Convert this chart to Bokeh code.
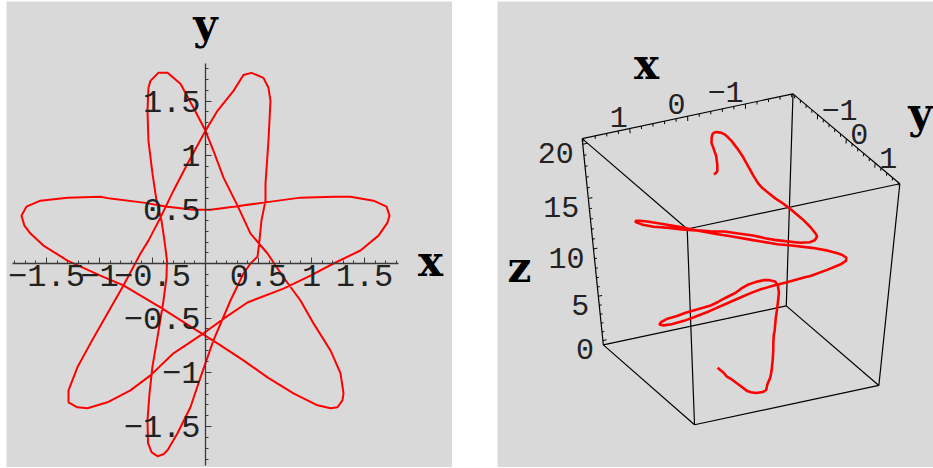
import numpy as np
from bokeh.plotting import figure
from bokeh.models import Range1d, LinearAxis, FixedTicker, Label, Spacer, AllLabels
from bokeh.layouts import row, column
from bokeh.embed import file_html
from bokeh.resources import INLINE

# Parametric curve (x(t), y(t)) in drawing order, with its height t for the space curve
curve_x = [0.491, 0.509, 0.528, 0.566, 0.566, 0.594, 0.613, 0.594, 0.547, 0.434,
           0.358, 0.264, 0.113, 0.0, -0.170, -0.302, -0.425, -0.538, -0.613, -0.774, -0.925, -1.085, -1.208, -1.292, -1.292, -1.208,
           -1.113, -0.925, -0.708, -0.519, -0.302, -0.047, 0.189, 0.396, 0.736, 0.991, 1.208, 1.462, 1.632, 1.717, 1.736,
           1.708, 1.585, 1.368, 1.208, 0.896, 0.547, 0.264, 0.047, -0.113, -0.358, -0.585, -0.896, -0.991, -1.302, -1.557, -1.689, -1.736,
           -1.708, -1.651, -1.528, -1.302, -0.991, -0.774, -0.425, -0.113, 0.113, 0.358, 0.585, 0.830, 1.057, 1.179, 1.245, 1.292, 1.302,
           1.274, 1.179, 1.019, 0.896, 0.736, 0.585, 0.425, 0.302, 0.170, 0.075, 0.0, -0.113, -0.236, -0.358, -0.443,
           -0.519, -0.538, -0.547, -0.538, -0.500, -0.462, -0.415, -0.387, -0.363, -0.368, -0.396, -0.453, -0.500, -0.528, -0.547, -0.542, -0.509, -0.453,
           -0.396, -0.358, -0.264, -0.142, -0.047, 0.075, 0.236, 0.358, 0.425, 0.491]
curve_y = [0.067, 0.214, 0.398, 0.582, 0.739, 1.134, 1.502, 1.622, 1.714, 1.760,
           1.741, 1.594, 1.410, 1.226, 0.923, 0.674, 0.426, 0.214, 0.095, -0.199, -0.457, -0.733, -0.954, -1.166, -1.276, -1.322,
           -1.331, -1.276, -1.166, -1.028, -0.825, -0.660, -0.494, -0.356, -0.228, -0.108, 0.003, 0.123, 0.260, 0.380, 0.444,
           0.527, 0.582, 0.619, 0.619, 0.610, 0.564, 0.527, 0.499, 0.499, 0.527, 0.564, 0.601, 0.619, 0.610, 0.582, 0.527, 0.444,
           0.352, 0.279, 0.168, 0.030, -0.108, -0.199, -0.402, -0.595, -0.733, -0.890, -1.046, -1.193, -1.304, -1.331, -1.322, -1.258, -1.193,
           -1.009, -0.798, -0.549, -0.338, -0.126, 0.095, 0.279, 0.536, 0.794, 1.042, 1.226, 1.438, 1.659, 1.760, 1.762,
           1.686, 1.622, 1.410, 1.134, 0.831, 0.582, 0.398, 0.214, 0.030, -0.126, -0.338, -0.678, -0.945, -1.193, -1.441, -1.653, -1.736, -1.773,
           -1.755, -1.718, -1.561, -1.322, -1.046, -0.706, -0.338, -0.089, 0.003, 0.067]
curve_z = [0.0, 0.13, 0.27, 0.4, 0.53, 0.85, 1.1, 1.23, 1.32, 1.4,
           1.5, 1.66, 1.87, 2.03, 2.3, 2.52, 2.73, 2.9, 3.0, 3.27, 3.48, 3.73, 3.9, 4.1, 4.27, 4.4,
           4.5, 4.66, 4.87, 5.03, 5.28, 5.5, 5.7, 5.9, 6.17, 6.43, 6.63, 6.9, 7.1, 7.27, 7.4,
           7.5, 7.6, 7.8, 7.95, 8.22, 8.5, 8.74, 8.9, 9.05, 9.25, 9.4, 9.65, 9.7, 9.95, 10.13, 10.22, 10.3,
           10.4, 10.47, 10.62, 10.85, 11.13, 11.3, 11.65, 11.95, 12.15, 12.4, 12.65, 12.9, 13.15, 13.3, 13.4, 13.5, 13.6,
           13.75, 13.92, 14.2, 14.38, 14.6, 14.83, 15.05, 15.3, 15.55, 15.75, 15.92, 16.13, 16.37, 16.5, 16.6,
           16.68, 16.72, 16.88, 17.05, 17.25, 17.4, 17.52, 17.64, 17.75, 17.83, 17.98, 18.2, 18.36, 18.5, 18.64, 18.73, 18.77, 18.8,
           18.84, 18.88, 19.0, 19.16, 19.3, 19.5, 19.7, 19.83, 19.92, 20.0]

plane_ticks = [-1.5, -1.0, -0.5, 0.5, 1.0, 1.5]
box_xy_ticks = [-1, 0, 1]
box_z_ticks = [0, 5, 10, 15, 20]
z_range = (0.0, 20.0)

BG = "#d9d9d9"
RED = "#ff0000"
INK = "#222222"
PAD = 0.025  # plot range padding, fraction of the data span

# perspective camera acting on box coordinates normalised to [-1, 1]
CAMERA = np.array([[-91.889, 45.012, -16.2256, 226.874],
                   [19.477, 38.473, -112.569, 251.002],
                   [-0.00026258, -0.0038437, -0.0663006, 0.9337114]])


def padded(lo, hi):
    d = (hi - lo) * PAD
    return lo - d, hi + d


def fmt(v):
    s = "%g" % abs(v)
    return ("\u2212" + s) if v < 0 else s


px_lo, px_hi = padded(min(curve_x), max(curve_x))
py_lo, py_hi = padded(min(curve_y), max(curve_y))
pz_lo, pz_hi = padded(*z_range)

# ---------------- planar curve
p1 = figure(width=446, height=466, x_range=Range1d(-1.877, 2.330), y_range=Range1d(-1.877, 2.4175),
            output_backend="svg", toolbar_location=None, x_axis_location=None, y_axis_location=None,
            min_border=0, background_fill_color=BG, border_fill_color=BG, outline_line_color=None)
p1.grid.visible = False

minor = [k / 10 for k in range(-18, 19) if k % 5 != 0]
axis_style = dict(fixed_location=0, major_tick_in=6, major_tick_out=0, minor_tick_in=3, minor_tick_out=0,
                  axis_line_color="#3a3a3a", axis_line_width=1.3, major_tick_line_color="#3a3a3a",
                  minor_tick_line_color="#3a3a3a", major_label_text_font="Liberation Mono",
                  major_label_text_font_size="32px", major_label_text_color=INK,
                  major_label_overrides={v: fmt(v) for v in plane_ticks}, major_label_policy=AllLabels(),
                  ticker=FixedTicker(ticks=plane_ticks, minor_ticks=minor))
xa = LinearAxis(bounds=(px_lo, px_hi), major_label_standoff=1, **axis_style)
ya = LinearAxis(bounds=(py_lo, py_hi), major_label_standoff=5, **axis_style)
p1.add_layout(xa, "below")
p1.add_layout(ya, "left")

p1.line(curve_x, curve_y, line_color=RED, line_width=2)

name_style = dict(text_align="center", text_baseline="alphabetic", text_font="DejaVu Serif",
                  text_font_style="bold", text_font_size="42px", text_color="black")
p1.add_layout(Label(x=px_hi + 0.30, y=0.02, text="x", **name_style))
p1.add_layout(Label(x=0.0, y=py_hi + 0.355, text="y", **name_style))

# ---------------- space curve
p2 = figure(width=436, height=466, x_range=Range1d(0, 436), y_range=Range1d(466, 0),
            output_backend="svg", toolbar_location=None, x_axis_location=None, y_axis_location=None,
            min_border=0, background_fill_color=BG, border_fill_color=BG, outline_line_color=None)
p2.grid.visible = False


def project(X, Y, Z):
    X = np.atleast_1d(np.asarray(X, float))
    Y = np.atleast_1d(np.asarray(Y, float))
    Z = np.atleast_1d(np.asarray(Z, float))
    s = np.vstack([(2 * X - px_lo - px_hi) / (px_hi - px_lo),
                   (2 * Y - py_lo - py_hi) / (py_hi - py_lo),
                   (2 * Z - pz_lo - pz_hi) / (pz_hi - pz_lo),
                   np.ones_like(X)])
    h = CAMERA @ s
    return list(h[0] / h[2]), list(h[1] / h[2])


# the twelve box edges
corners = [(a, b, c) for a in (px_lo, px_hi) for b in (py_lo, py_hi) for c in (pz_lo, pz_hi)]
ex, ey = [], []
for i, c1 in enumerate(corners):
    for c2 in corners[i + 1:]:
        if sum(1 for a, b in zip(c1, c2) if a != b) == 1:
            u, v = project([c1[0], c2[0]], [c1[1], c2[1]], [c1[2], c2[2]])
            ex.append(u)
            ey.append(v)
p2.multi_line(ex, ey, line_color="black", line_width=1.2)

# tick marks along the three labelled edges
dz = (pz_hi - pz_lo) / 2
dx = (px_hi - px_lo) / 2
tx, ty = [], []
for k in range(-9, 10):
    t = k / 5
    L = 0.04 if k % 5 == 0 else 0.025
    u, v = project([t, t], [py_lo, py_lo], [pz_hi, pz_hi - L * dz])
    tx.append(u); ty.append(v)
    u, v = project([px_lo, px_lo], [t, t], [pz_hi, pz_hi - L * dz])
    tx.append(u); ty.append(v)
for z in range(0, 21):
    L = 0.04 if z % 5 == 0 else 0.025
    u, v = project([px_hi, px_hi - L * dx], [py_lo, py_lo], [z, z])
    tx.append(u); ty.append(v)
p2.multi_line(tx, ty, line_color="black", line_width=1)

num_style = dict(text_baseline="middle", text_font="Liberation Mono", text_font_size="30px", text_color=INK)
for t in box_xy_ticks:
    u, v = project(t, py_lo, pz_hi)
    p2.add_layout(Label(x=u[0] - 2, y=v[0] - 12, text=fmt(t), text_align="right", **num_style))
    u, v = project(px_lo, t, pz_hi)
    p2.add_layout(Label(x=u[0] + 4, y=v[0] - 5, text=fmt(t), text_align="left", **num_style))
for z in box_z_ticks:
    u, v = project(px_hi, py_lo, z)
    p2.add_layout(Label(x=u[0] - 9, y=v[0] + 8.7, text=fmt(z), text_align="right", **num_style))

u, v = project(0, py_lo, pz_hi)
p2.add_layout(Label(x=u[0] - 41, y=v[0] - 52, text="x", **name_style))
u, v = project(px_lo, 0, pz_hi)
p2.add_layout(Label(x=u[0] + 74, y=v[0] - 25, text="y", **name_style))
u, v = project(px_hi, py_lo, sum(z_range) / 2)
p2.add_layout(Label(x=u[0] - 74, y=v[0] + 18, text="z", **name_style))

cu, cv = project(curve_x, curve_y, curve_z)
p2.line(cu, cv, line_color=RED, line_width=2.6)

layout = column(Spacer(height=1), row(Spacer(width=6), p1, Spacer(width=45), p2))
open("out.html", "w").write(file_html(layout, INLINE))
